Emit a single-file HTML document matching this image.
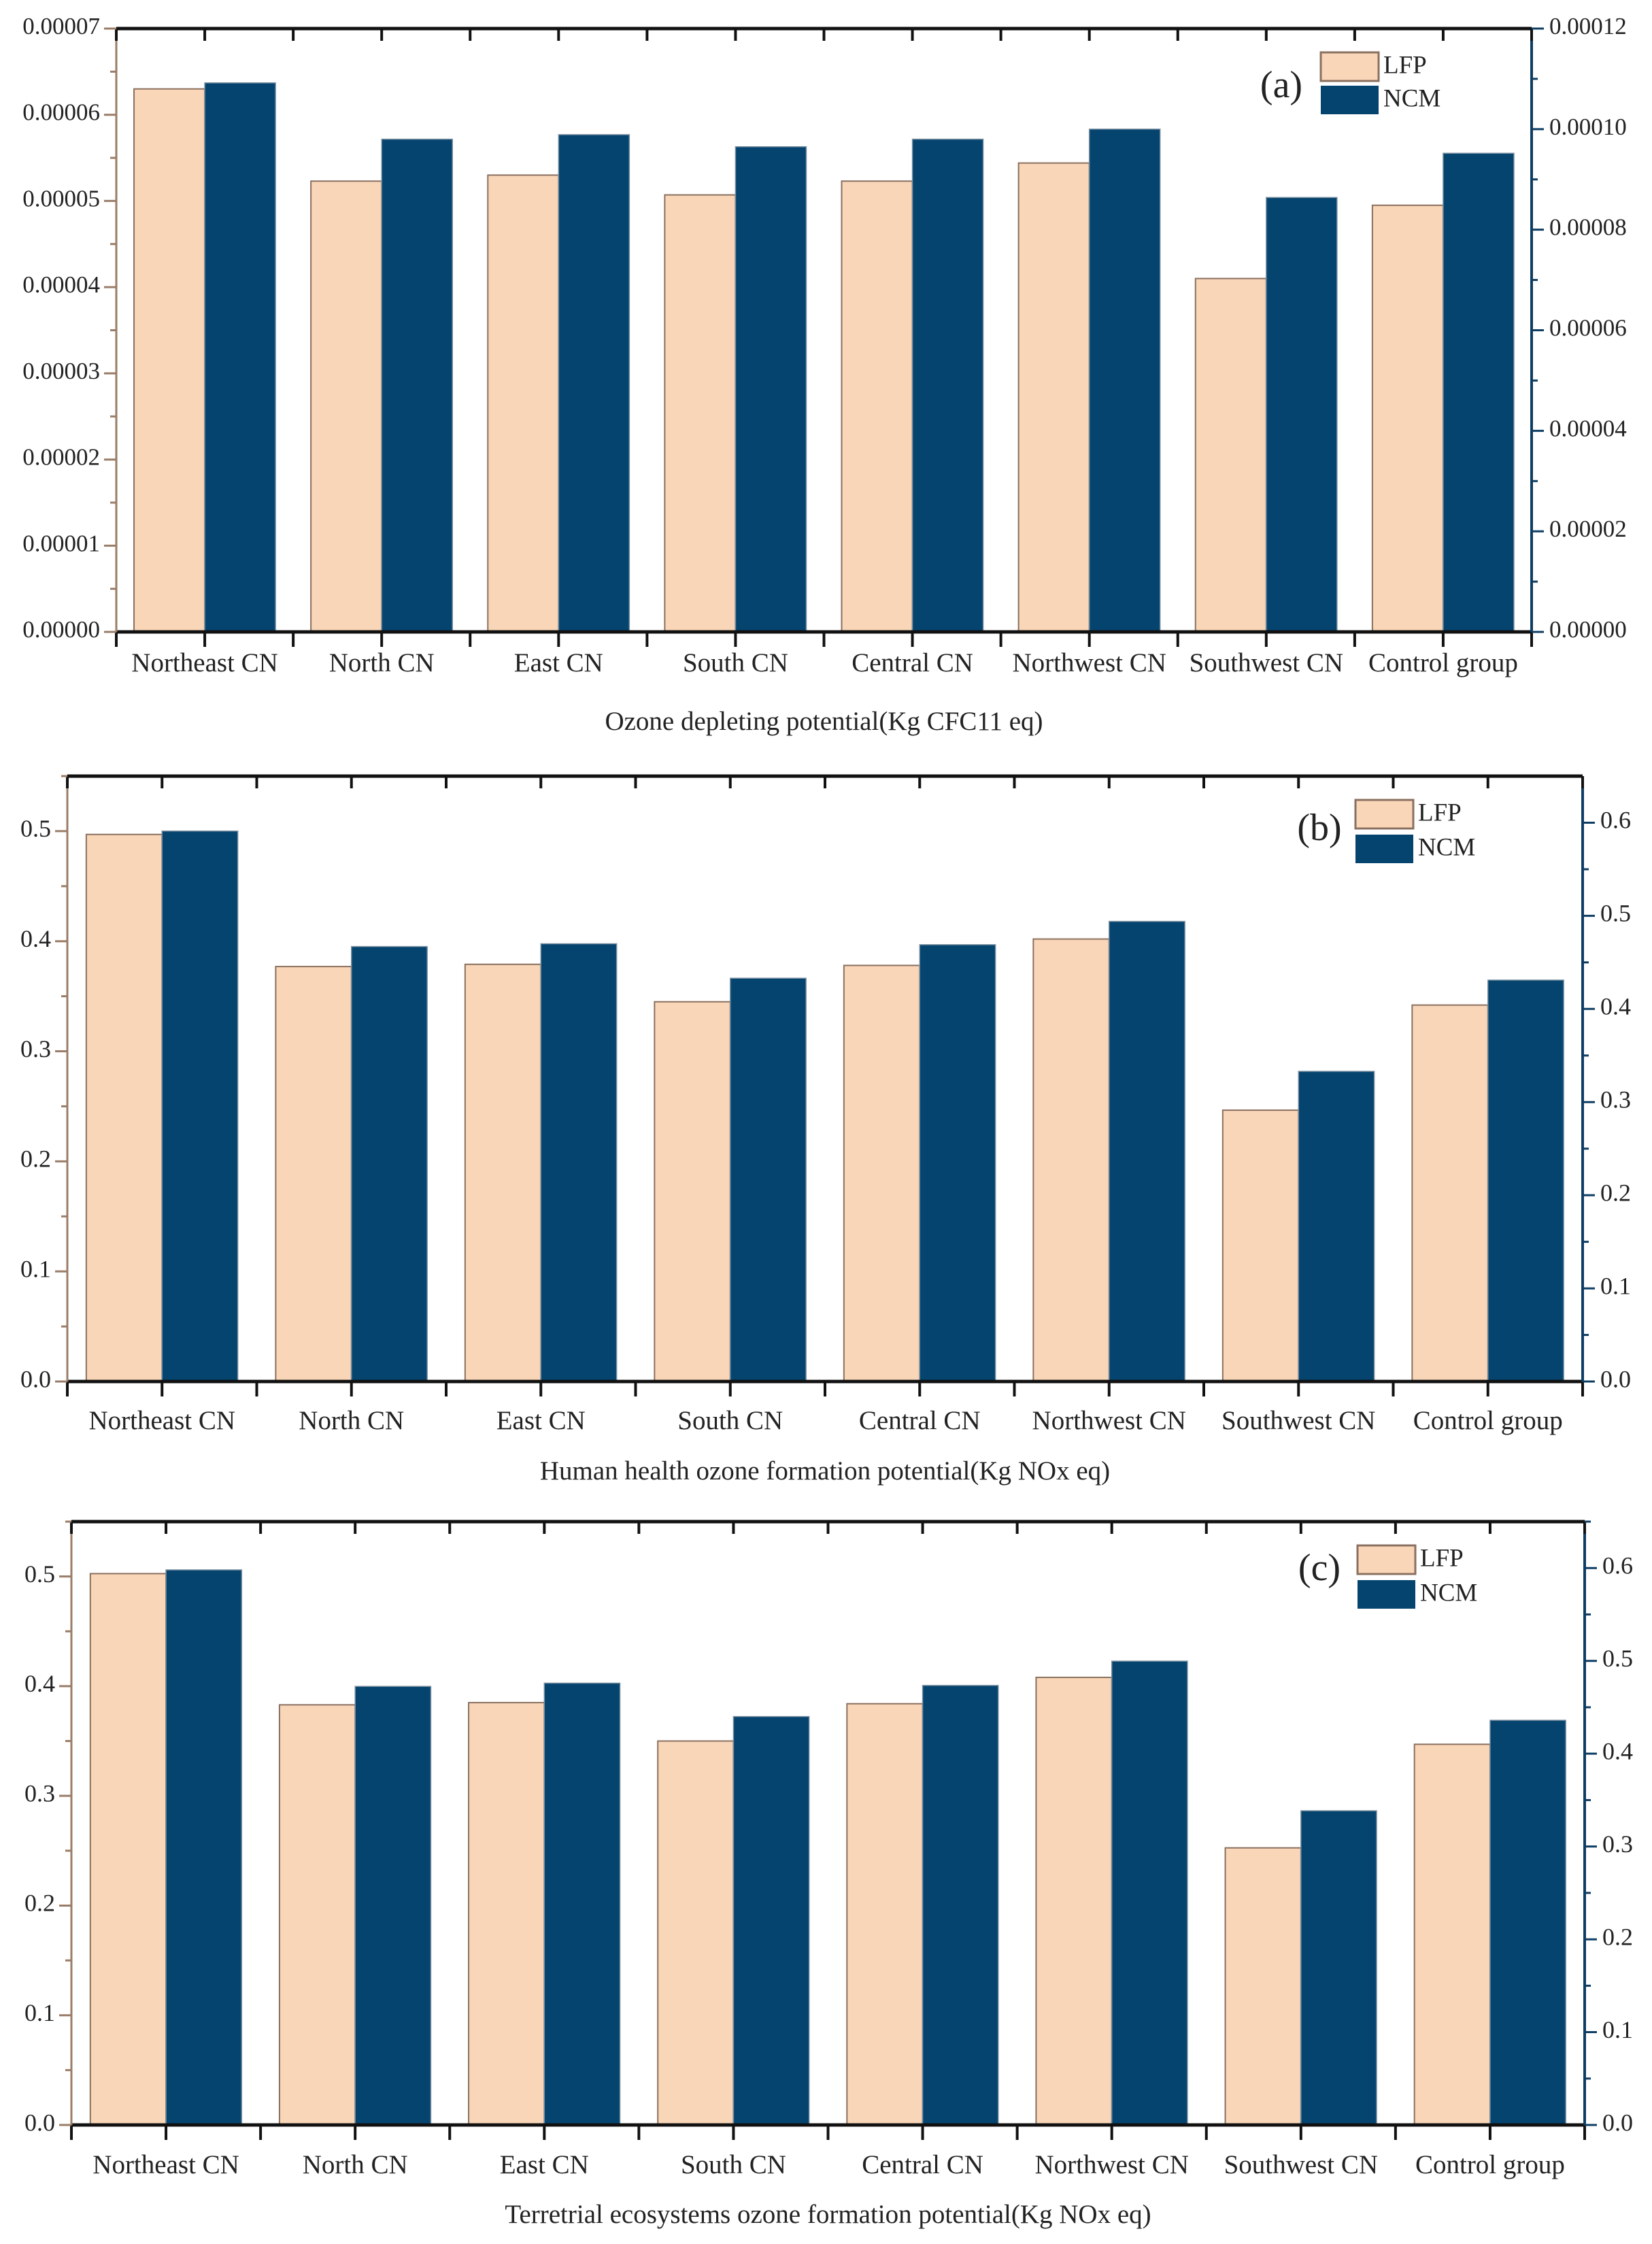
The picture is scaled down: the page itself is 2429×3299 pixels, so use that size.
<!DOCTYPE html>
<html><head><meta charset="utf-8"><style>
html,body{margin:0;padding:0;background:#fff;}
svg{display:block;}
text{font-family:"Liberation Serif",serif;fill:#222;}
</style></head><body>
<svg id="chart" width="2429" height="3299" viewBox="0 0 2429 3299" xmlns="http://www.w3.org/2000/svg"></svg>
<script>
const categories = ["Northeast CN","North CN","East CN","South CN","Central CN","Northwest CN","Southwest CN","Control group"];
const lfpA = [0.0000630,0.0000523,0.0000530,0.0000507,0.0000523,0.0000544,0.0000410,0.0000495];
const ncmA = [0.0001092,0.0000980,0.0000989,0.0000965,0.0000980,0.0001000,0.0000864,0.0000952];
const lfpB = [0.497,0.377,0.379,0.345,0.378,0.402,0.2465,0.342];
const ncmB = [0.591,0.467,0.470,0.433,0.469,0.494,0.333,0.431];
const lfpC = [0.5026,0.383,0.385,0.350,0.384,0.408,0.2526,0.347];
const ncmC = [0.598,0.4725,0.476,0.440,0.4735,0.4997,0.3385,0.436];
const leftTicksA = ["0.00000","0.00001","0.00002","0.00003","0.00004","0.00005","0.00006","0.00007"];
const rightTicksA = ["0.00000","0.00002","0.00004","0.00006","0.00008","0.00010","0.00012"];
const leftTicksBC = ["0.0","0.1","0.2","0.3","0.4","0.5"];
const rightTicksBC = ["0.0","0.1","0.2","0.3","0.4","0.5","0.6"];

const NS="http://www.w3.org/2000/svg";
const svg=document.getElementById('chart');
function mk(tag,attrs,parent){const e=document.createElementNS(NS,tag);for(const k in attrs)e.setAttribute(k,attrs[k]);(parent||svg).appendChild(e);return e;}

function panel(p){
  const g=mk('g',{});
  
  
  const L=p.left,R=p.right,T=p.top,B=p.bottom;
  const yL=v=>B-(v/p.lMax)*(B-T);
  const yR=v=>B-(v/p.rMax)*(B-T);
  const gw=(R-L)/categories.length;
  const bw=gw*0.4, pad=gw*0.1;
  categories.forEach((c,i)=>{
    const x0=L+i*gw+pad;
    const y1=yL(p.lfp[i]);
    const r1=mk('rect',{x:x0,y:y1,width:bw,height:B-y1,fill:'#f9d6b8',stroke:'#8a7060','stroke-width':2},g);
    
    
    const y2=yR(p.ncm[i]);
    const r2=mk('rect',{x:x0+bw,y:y2,width:bw,height:B-y2,fill:'#05446f',stroke:'#7a8fa0','stroke-width':1.5},g);
    
    
    const t=mk('text',{x:L+(i+0.5)*gw,y:p.catY,'font-size':39,'text-anchor':'middle','dominant-baseline':'middle'},g);
    t.textContent=c;
    
    
  });
  mk('line',{x1:L,y1:T,x2:R,y2:T,stroke:'#111','stroke-width':5},g);
  mk('line',{x1:L,y1:B,x2:R,y2:B,stroke:'#111','stroke-width':5},g);
  mk('line',{x1:L,y1:T,x2:L,y2:B,stroke:'#9a7d68','stroke-width':3},g);
  mk('line',{x1:R,y1:T,x2:R,y2:B,stroke:'#0e3d63','stroke-width':4},g);
  for(let k=0;k<=categories.length*2;k++){
    const x=L+k*gw/2;
    mk('line',{x1:x,y1:T,x2:x,y2:T+18,stroke:'#111','stroke-width':4},g);
    mk('line',{x1:x,y1:B,x2:x,y2:B+22,stroke:'#111','stroke-width':4},g);
  }
  p.lTicks.forEach((s,i)=>{
    const v=i*p.lStep, y=yL(v);
    mk('line',{x1:L-18,y1:y,x2:L,y2:y,stroke:'#9a7d68','stroke-width':3},g);
    const ym=yL(v+p.lStep/2);
    if(ym>=T) mk('line',{x1:L-9,y1:ym,x2:L,y2:ym,stroke:'#9a7d68','stroke-width':3},g);
    const t=mk('text',{x:L-24,y:y,'font-size':p.tickFs,'text-anchor':'end','dominant-baseline':'middle'},g);
    t.textContent=s;
    
    
  });
  p.rTicks.forEach((s,i)=>{
    const v=i*p.rStep, y=yR(v);
    mk('line',{x1:R,y1:y,x2:R+18,y2:y,stroke:'#0e3d63','stroke-width':3},g);
    const ym=yR(v+p.rStep/2);
    if(ym>=T) mk('line',{x1:R,y1:ym,x2:R+9,y2:ym,stroke:'#0e3d63','stroke-width':3},g);
    const t=mk('text',{x:R+26,y:y,'font-size':p.tickFs,'text-anchor':'start','dominant-baseline':'middle'},g);
    t.textContent=s;
    
    
  });
  const xt=mk('text',{x:(L+R)/2,y:p.titleY,'font-size':39,'text-anchor':'middle','dominant-baseline':'middle'},g);
  xt.textContent=p.title;
  
  
  const lg=p.leg;
  const pl=mk('text',{x:lg.px,y:lg.py,'font-size':56,'text-anchor':'middle','dominant-baseline':'middle'},g);
  pl.textContent=p.label;
  
  
  const s1=mk('rect',{x:lg.sx,y:lg.y1,width:85,height:42,fill:'#f9d6b8',stroke:'#8a7060','stroke-width':3},g);
  
  
  const s2=mk('rect',{x:lg.sx,y:lg.y2,width:85,height:42,fill:'#05446f'},g);
  
  
  const t1=mk('text',{x:lg.sx+92,y:lg.y1+22,'font-size':37,'dominant-baseline':'middle'},g);
  t1.textContent='LFP';
  
  
  const t2=mk('text',{x:lg.sx+92,y:lg.y2+22,'font-size':37,'dominant-baseline':'middle'},g);
  t2.textContent='NCM';
  
  
}

panel({id:'a',label:'(a)',left:171,right:2252,top:42,bottom:929,lMax:0.00007,rMax:0.00012,lStep:0.00001,rStep:0.00002,
  lfp:lfpA,ncm:ncmA,lTicks:leftTicksA,rTicks:rightTicksA,tickFs:35,catY:978,titleY:1064,
  title:'Ozone depleting potential(Kg CFC11 eq)',leg:{px:1884,py:130,sx:1942,y1:77,y2:126}});
panel({id:'b',label:'(b)',left:99,right:2327,top:1141,bottom:2031,lMax:0.55,rMax:0.65,lStep:0.1,rStep:0.1,
  lfp:lfpB,ncm:ncmB,lTicks:leftTicksBC,rTicks:rightTicksBC,tickFs:36,catY:2092,titleY:2166,
  title:'Human health ozone formation potential(Kg NOx eq)',leg:{px:1940,py:1222,sx:1993,y1:1176,y2:1227}});
panel({id:'c',label:'(c)',left:105,right:2330,top:2237,bottom:3124,lMax:0.55,rMax:0.65,lStep:0.1,rStep:0.1,
  lfp:lfpC,ncm:ncmC,lTicks:leftTicksBC,rTicks:rightTicksBC,tickFs:36,catY:3186,titleY:3259,
  title:'Terretrial ecosystems ozone formation potential(Kg NOx eq)',leg:{px:1940,py:2310,sx:1996,y1:2272,y2:2323}});
</script>
</body></html>
